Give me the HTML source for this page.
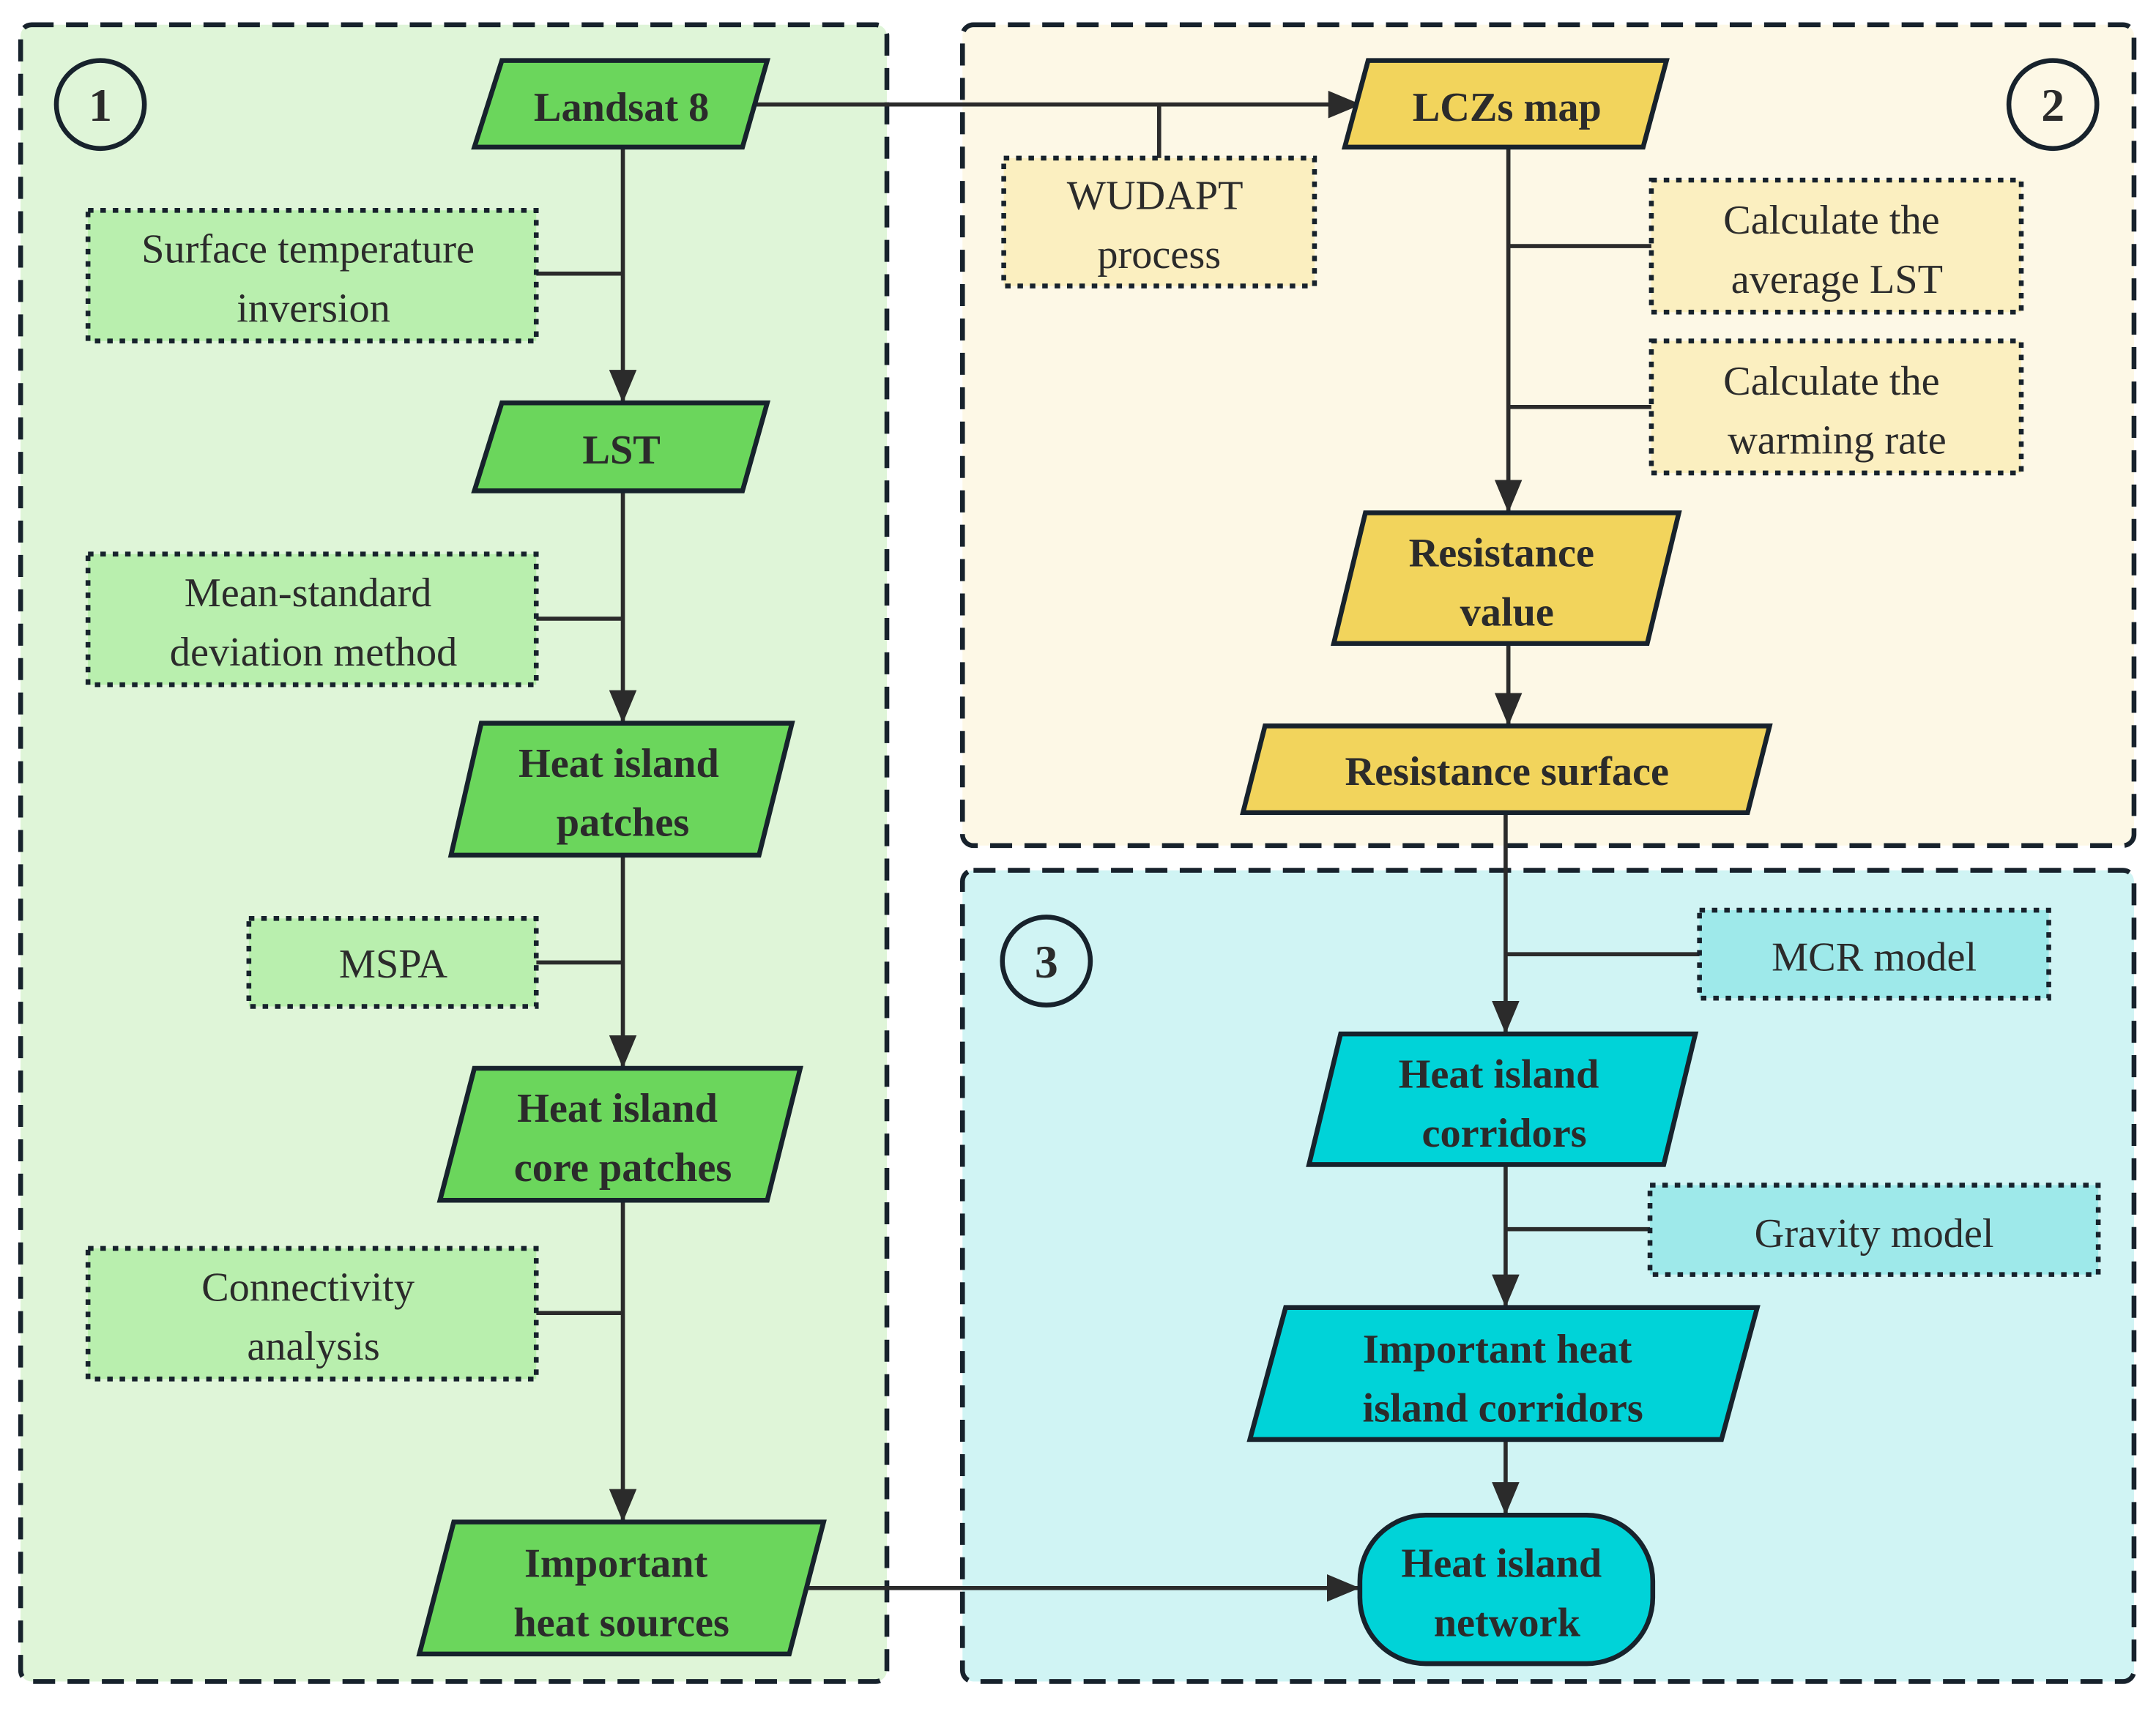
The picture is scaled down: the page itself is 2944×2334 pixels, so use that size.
<!DOCTYPE html>
<html><head><meta charset="utf-8"><style>
html,body{margin:0;padding:0;background:#fff}
svg{display:block}
text{font-family:"Liberation Serif","DejaVu Serif","Times New Roman",serif;fill:#2b2b2b;text-anchor:middle}
.b{font-weight:bold;font-size:30px}
.r{font-size:30px}
.n{stroke:#17222c;stroke-width:3.5}
.d{stroke:#17222c;stroke-width:3.5;stroke-dasharray:4 5}
.l{stroke:#2b2b2b;stroke-width:3;fill:none}
.p{stroke:#17222c;stroke-width:3.5;stroke-dasharray:16 9}
</style></head><body>
<svg width="2944" height="2334" viewBox="0 0 1568 1243" preserveAspectRatio="none" xmlns="http://www.w3.org/2000/svg" font-family="Liberation Serif, DejaVu Serif, serif">
<defs>
<marker id="h" viewBox="0 0 24 20" refX="24" refY="10" markerWidth="24" markerHeight="20" orient="auto" markerUnits="userSpaceOnUse"><path d="M0,0 L24,10 L0,20z" fill="#2b2b2b"/></marker></defs>
<rect width="1568" height="1243" fill="#fff"/>
<!-- panels -->
<rect x="15" y="18" width="630" height="1205" rx="8" style="fill:#dff5d8" class="p"/>
<rect x="700" y="18" width="852" height="597" rx="8" style="fill:#fdf8e6" class="p"/>
<rect x="700" y="633" width="852" height="590" rx="8" style="fill:#d0f4f4" class="p"/>
<circle cx="73" cy="76" r="32" fill="none" stroke="#17222c" stroke-width="3.5"/><text x="73" y="88" class="b" style="font-size:34px">1</text>
<circle cx="1493" cy="76" r="32" fill="none" stroke="#17222c" stroke-width="3.5"/><text x="1493" y="88" class="b" style="font-size:34px">2</text>
<circle cx="761" cy="699" r="32" fill="none" stroke="#17222c" stroke-width="3.5"/><text x="761" y="711" class="b" style="font-size:34px">3</text>
<!-- connectors panel 1 -->
<line x1="453" y1="107" x2="453" y2="293" class="l" marker-end="url(#h)"/>
<line x1="453" y1="357" x2="453" y2="526" class="l" marker-end="url(#h)"/>
<line x1="453" y1="622" x2="453" y2="777" class="l" marker-end="url(#h)"/>
<line x1="453" y1="873" x2="453" y2="1107" class="l" marker-end="url(#h)"/>
<line x1="390" y1="199" x2="453" y2="199" class="l"/>
<line x1="390" y1="450" x2="453" y2="450" class="l"/>
<line x1="390" y1="700" x2="453" y2="700" class="l"/>
<line x1="390" y1="955" x2="453" y2="955" class="l"/>
<line x1="548" y1="76" x2="990" y2="76" class="l" marker-end="url(#h)"/>
<line x1="843" y1="76" x2="843" y2="115" class="l"/>
<line x1="585" y1="1155" x2="989" y2="1155" class="l" marker-end="url(#h)"/>
<!-- panel 2 connectors -->
<line x1="1097" y1="107" x2="1097" y2="373" class="l" marker-end="url(#h)"/>
<line x1="1097" y1="179" x2="1201" y2="179" class="l"/>
<line x1="1097" y1="296" x2="1201" y2="296" class="l"/>
<line x1="1097" y1="468" x2="1097" y2="528" class="l" marker-end="url(#h)"/>
<line x1="1095" y1="591" x2="1095" y2="752" class="l" marker-end="url(#h)"/>
<line x1="1095" y1="694" x2="1236" y2="694" class="l"/>
<line x1="1095" y1="847" x2="1095" y2="951" class="l" marker-end="url(#h)"/>
<line x1="1095" y1="894" x2="1200" y2="894" class="l"/>
<line x1="1095" y1="1047" x2="1095" y2="1102" class="l" marker-end="url(#h)"/>
<!-- dotted boxes -->
<rect x="64" y="153" width="326" height="95" fill="#b9efae" class="d"/>
<text x="224" y="191" class="r">Surface temperature</text><text x="228" y="234" class="r">inversion</text>
<rect x="64" y="403" width="326" height="95" fill="#b9efae" class="d"/>
<text x="224" y="441" class="r">Mean-standard</text><text x="228" y="484" class="r">deviation method</text>
<rect x="181" y="668" width="209" height="64" fill="#b9efae" class="d"/>
<text x="286" y="711" class="r">MSPA</text>
<rect x="64" y="908" width="326" height="95" fill="#b9efae" class="d"/>
<text x="224" y="946" class="r">Connectivity</text><text x="228" y="989" class="r">analysis</text>
<rect x="730" y="115" width="226" height="93" fill="#fbefc0" class="d"/>
<text x="840" y="152" class="r">WUDAPT</text><text x="843" y="195" class="r">process</text>
<rect x="1201" y="131" width="269" height="96" fill="#fbefc0" class="d"/>
<text x="1332" y="170" class="r">Calculate the</text><text x="1336" y="213" class="r">average LST</text>
<rect x="1201" y="248" width="269" height="96" fill="#fbefc0" class="d"/>
<text x="1332" y="287" class="r">Calculate the</text><text x="1336" y="330" class="r">warming rate</text>
<rect x="1236" y="662" width="254" height="64" fill="#9ee9ea" class="d"/>
<text x="1363" y="706" class="r">MCR model</text>
<rect x="1200" y="862" width="326" height="65" fill="#9ee9ea" class="d"/>
<text x="1363" y="907" class="r">Gravity model</text>
<!-- green nodes -->
<polygon points="365,44 558,44 540,107 345,107" fill="#6bd65c" class="n"/><text x="452" y="88" class="b">Landsat 8</text>
<polygon points="365,293 558,293 540,357 345,357" fill="#6bd65c" class="n"/><text x="452" y="337" class="b">LST</text>
<polygon points="350,526 576,526 552,622 328,622" fill="#6bd65c" class="n"/><text x="450" y="565" class="b">Heat island</text><text x="453" y="608" class="b">patches</text>
<polygon points="345,777 582,777 558,873 320,873" fill="#6bd65c" class="n"/><text x="449" y="816" class="b">Heat island</text><text x="453" y="859" class="b">core patches</text>
<polygon points="330,1107 599,1107 574,1203 305,1203" fill="#6bd65c" class="n"/><text x="448" y="1147" class="b">Important</text><text x="452" y="1190" class="b">heat sources</text>
<!-- yellow nodes -->
<polygon points="995,44 1212,44 1195,107 978,107" fill="#f2d45c" class="n"/><text x="1096" y="88" class="b">LCZs map</text>
<polygon points="993,373 1221,373 1198,468 970,468" fill="#f2d45c" class="n"/><text x="1092" y="412" class="b">Resistance</text><text x="1096" y="455" class="b">value</text>
<polygon points="920,528 1287,528 1271,591 904,591" fill="#f2d45c" class="n"/><text x="1096" y="571" class="b">Resistance surface</text>
<!-- cyan nodes -->
<polygon points="975,752 1233,752 1210,847 952,847" fill="#00d3d8" class="n"/><text x="1090" y="791" class="b">Heat island</text><text x="1094" y="834" class="b">corridors</text>
<polygon points="935,951 1278,951 1252,1047 909,1047" fill="#00d3d8" class="n"/><text x="1089" y="991" class="b">Important heat</text><text x="1093" y="1034" class="b">island corridors</text>
<rect x="989" y="1102" width="213" height="108" rx="48" fill="#00d3d8" class="n"/><text x="1092" y="1147" class="b">Heat island</text><text x="1096" y="1190" class="b">network</text>
</svg>
</body></html>
